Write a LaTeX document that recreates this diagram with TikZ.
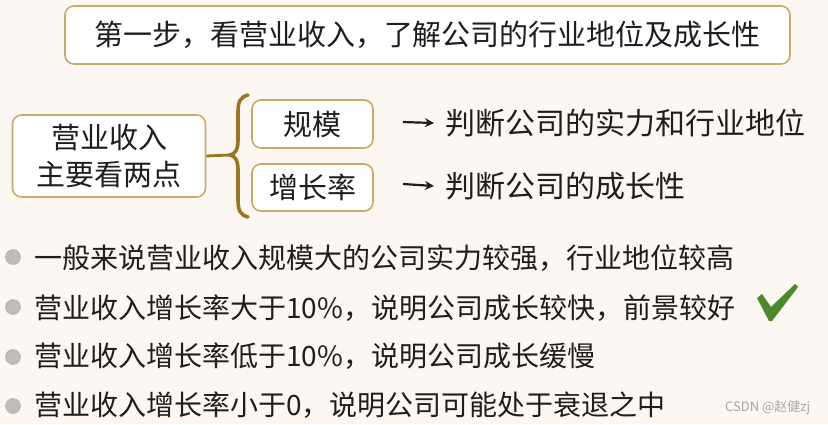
\documentclass[tikz,border=0pt]{standalone}
\usepackage{fontspec}
\setmainfont{Noto Sans CJK SC}
\newfontfamily\cjk{Noto Sans CJK SC}
\definecolor{bg}{HTML}{FDF7F4}
\definecolor{boxline}{HTML}{C9AA66}
\definecolor{bracecol}{HTML}{9A7620}
\definecolor{txt}{HTML}{1E1E1E}
\definecolor{bullet}{HTML}{BDBDBD}
\definecolor{checkgreen}{HTML}{4A8A2A}
\definecolor{wm}{HTML}{A8A8A8}
\tikzset{
  goldbox/.style={draw=boxline, line width=1.6pt, fill=white, rounded corners=9pt, inner sep=0pt, text=txt, align=center},
  plain/.style={inner sep=0pt, text=txt, anchor=west},
  bulletdot/.style={circle, inner sep=0pt, minimum size=15pt, fill=bullet, draw=bullet!80!black, line width=0.3pt},
  arrowline/.style={draw=txt, line width=2.2pt, -{Stealth[length=9pt,width=9pt]}},
}
\usetikzlibrary{arrows.meta}
\begin{document}
\begin{tikzpicture}[x=1pt,y=-1pt]
\useasboundingbox (0,0) rectangle (828,424);
\fill[bg] (0,0) rectangle (828,424);

% title
\node[goldbox, minimum width=725pt, minimum height=58pt, font=\fontsize{29}{34}\selectfont] (title) at (427.5,35) {第一步，看营业收入，了解公司的行业地位及成长性};

% left box
\node[goldbox, minimum width=193pt, minimum height=82pt, font=\fontsize{29}{37}\selectfont] (rev) at (109,156) {营业收入\\主要看两点};

% brace
\coordinate (tip) at (230,155);
\draw[bracecol, line width=2.8pt] (rev.east) -- (tip);
\draw[bracecol, line width=3.6pt, line cap=round]
  (248,95) .. controls (240,97) and (238,102) .. (238,112)
  -- (238,140) .. controls (238,150) and (235,154) .. (tip)
  .. controls (235,156) and (238,160) .. (238,170)
  -- (238,200) .. controls (238,210) and (240,215) .. (248,217);

% sub boxes
\node[goldbox, minimum width=121pt, minimum height=48pt, font=\fontsize{29}{34}\selectfont] (scale) at (312.5,124) {规模};
\node[goldbox, minimum width=121pt, minimum height=47pt, font=\fontsize{29}{34}\selectfont] (growth) at (312.5,187.5) {增长率};

% arrows and results
\coordinate (a1s) at (403,122);
\coordinate (a2s) at (403,184);
\node[plain, font=\fontsize{30}{34}\selectfont] (res1) at (445,123) {判断公司的实力和行业地位};
\node[plain, font=\fontsize{30}{34}\selectfont] (res2) at (445,186) {判断公司的成长性};
\draw[arrowline] (a1s) -- (res1.west -| 434,0);
\draw[arrowline] (a2s) -- (res2.west -| 434,0);

% bullets
\foreach \y/\n in {257/b1,307/b2,357/b3,406/b4}{
  \node[bulletdot] (\n) at (13,\y) {};
}
\node[plain, font=\fontsize{28}{32}\selectfont] (t1) at (34,258) {一般来说营业收入规模大的公司实力较强，行业地位较高};
\node[plain, font=\fontsize{28}{32}\selectfont] (t2) at (34,308) {营业收入增长率大于{\fontspec{Noto Sans CJK SC}[Scale=1]10\%}，说明公司成长较快，前景较好};
\node[plain, font=\fontsize{28}{32}\selectfont] (t3) at (34,356) {营业收入增长率低于10\%，说明公司成长缓慢};
\node[plain, font=\fontsize{28}{32}\selectfont] (t4) at (34,405) {营业收入增长率小于0，说明公司可能处于衰退之中};

% check mark
\fill[checkgreen] (757,298) -- (762,294) -- (771,307) -- (795,284) -- (798,287) -- (772,321) -- (769,321) -- cycle;

% watermark
\node[plain, text=wm, font=\fontsize{13}{15}\selectfont] (wmk) at (725,408) {CSDN @赵健zj};
\end{tikzpicture}
\end{document}
